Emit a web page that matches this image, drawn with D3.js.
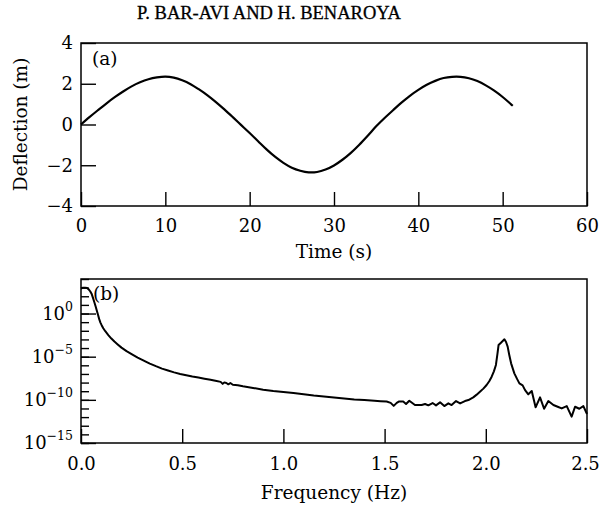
<!DOCTYPE html>
<html><head><meta charset="utf-8">
<script src="https://cdn.jsdelivr.net/npm/d3@7/dist/d3.min.js"></script>
<style>
body{margin:0;background:#fff;}
svg{display:block;}
text{font-family:"DejaVu Serif",serif;fill:#000;}
</style></head>
<body>
<svg id="chart" width="600" height="508"></svg>
<script>
// ---- Data (a): deflection time history ----
const timeS = [0,1,2,3,4,5,6,7,8,9,10,11,12,13,14,15,16,17,18,19,20,21,22,23,24,25,26,27,28,29,30,31,32,33,34,35,36,37,38,39,40,41,42,43,44,45,46,47,48,49,50,51,51.2];
const deflectionM = [0,0.36,0.70,1.03,1.34,1.62,1.87,2.07,2.22,2.31,2.35,2.30,2.17,1.98,1.72,1.43,1.10,0.74,0.36,-0.03,-0.42,-0.82,-1.22,-1.58,-1.88,-2.12,-2.27,-2.35,-2.33,-2.21,-2.01,-1.73,-1.39,-0.99,-0.55,-0.09,0.32,0.70,1.07,1.41,1.70,1.95,2.14,2.28,2.34,2.34,2.27,2.13,1.92,1.66,1.35,0.99,0.92];
const timeTicks = [0,10,20,30,40,50,60];
const deflTicks = [-4,-2,0,2,4];

// ---- Data (b): spectrum ----
const freqHz = [0.000,0.010,0.020,0.030,0.038,0.046,0.053,0.060,0.066,0.072,0.078,0.084,0.090,0.096,0.102,0.110,0.120,0.135,0.150,0.165,0.180,0.200,0.225,0.250,0.280,0.310,0.340,0.370,0.400,0.430,0.460,0.490,0.520,0.550,0.580,0.610,0.640,0.670,0.690,0.700,0.708,0.718,0.728,0.738,0.750,0.775,0.800,0.850,0.900,0.950,1.000,1.050,1.100,1.150,1.200,1.250,1.300,1.350,1.400,1.450,1.480,1.510,1.530,1.545,1.560,1.570,1.592,1.606,1.622,1.650,1.683,1.700,1.716,1.737,1.754,1.774,1.795,1.815,1.831,1.853,1.873,1.897,1.914,1.938,1.955,1.971,1.988,2.004,2.017,2.029,2.040,2.050,2.058,2.063,2.075,2.092,2.100,2.108,2.116,2.125,2.141,2.155,2.166,2.182,2.194,2.210,2.227,2.246,2.268,2.288,2.309,2.334,2.355,2.375,2.400,2.424,2.441,2.462,2.482,2.500];
const spectrumLog10 = [2.90,3.00,3.00,2.95,2.80,2.55,2.25,1.75,1.30,0.85,0.35,-0.15,-0.65,-1.05,-1.35,-1.70,-2.05,-2.50,-2.90,-3.25,-3.55,-3.95,-4.35,-4.70,-5.10,-5.45,-5.80,-6.10,-6.38,-6.60,-6.82,-7.00,-7.15,-7.30,-7.42,-7.55,-7.68,-7.82,-7.92,-8.15,-7.98,-8.05,-8.20,-8.05,-8.25,-8.30,-8.42,-8.62,-8.82,-8.98,-9.10,-9.22,-9.35,-9.50,-9.62,-9.74,-9.85,-9.95,-10.02,-10.10,-10.15,-10.20,-10.35,-10.70,-10.35,-10.20,-10.20,-10.48,-10.10,-10.60,-10.60,-10.48,-10.64,-10.37,-10.64,-10.29,-10.72,-10.41,-10.60,-10.14,-10.41,-10.14,-10.02,-9.71,-9.40,-9.06,-8.70,-8.28,-7.85,-7.32,-6.70,-5.96,-4.60,-3.65,-3.38,-2.99,-3.30,-3.84,-4.80,-5.77,-6.93,-7.60,-8.09,-8.32,-8.87,-9.36,-8.98,-10.87,-9.71,-11.03,-10.14,-10.60,-10.80,-10.99,-10.72,-11.95,-10.80,-11.03,-10.72,-11.64];
const freqTicks = [0,0.5,1.0,1.5,2.0,2.5];
const specMajorExp = [0,-5,-10,-15];
const specMinorExp = [-15,-14,-13,-12,-11,-10,-9,-8,-7,-6,-5,-4,-3,-2,-1,0,1,2,3,4];

const titleText = "P. BAR-AVI AND H. BENAROYA";

const svg = d3.select("#chart");

svg.append("text").attr("x",269).attr("y",19).attr("text-anchor","middle")
  .style("font-family","'Liberation Serif',serif").style("font-size","18.5px")
  .style("stroke","#000").style("stroke-width","0.3px")
  .text(titleText);

const L = 81, R = 587;
const TICKFS = "18px";

function styleAxis(g){
  g.select(".domain").remove();
  g.selectAll(".tick line").attr("stroke","#000").attr("stroke-width",1.4);
  g.selectAll(".tick text").style("font-size",TICKFS).style("font-family","'DejaVu Serif',serif");
}

// ---------- Panel (a) ----------
const aT = 43, aB = 206;
const xa = d3.scaleLinear().domain([0,60]).range([L,R]);
const ya = d3.scaleLinear().domain([-4,4]).range([aB,aT]);

svg.append("g").attr("transform",`translate(0,${aB})`)
  .call(d3.axisBottom(xa).tickValues(timeTicks).tickSize(-14).tickPadding(13).tickFormat(d3.format("d")))
  .call(styleAxis);
svg.append("g").attr("transform",`translate(${L},0)`)
  .call(d3.axisLeft(ya).tickValues(deflTicks).tickSize(-15).tickPadding(8).tickFormat(d => d < 0 ? "\u2212" + Math.abs(d) : String(d)))
  .call(styleAxis);

svg.append("rect").attr("x",L).attr("y",aT).attr("width",R-L).attr("height",aB-aT)
  .attr("fill","none").attr("stroke","#000").attr("stroke-width",1.5);

const lineA = d3.line().x((d,i)=>xa(timeS[i])).y(d=>ya(d)).curve(d3.curveCatmullRom);
svg.append("path").datum(deflectionM).attr("d",lineA)
  .attr("fill","none").attr("stroke","#000").attr("stroke-width",2.2);

svg.append("text").attr("x",92).attr("y",65).style("font-size","18.5px").text("(a)");
svg.append("text").attr("x",334).attr("y",258).attr("text-anchor","middle").style("font-size","18.5px").text("Time (s)");
svg.append("text").attr("transform",`translate(27,${(aT+aB)/2}) rotate(-90)`).attr("text-anchor","middle")
  .style("font-size","18.5px").text("Deflection (m)");

// ---------- Panel (b) ----------
const bT = 279, bB = 443;
const xb = d3.scaleLinear().domain([0,2.5]).range([L,R]);
const yb = d3.scaleLog().domain([1e-15,1e4]).range([bB,bT]);

const xbG = svg.append("g").attr("transform",`translate(0,${bB})`)
  .call(d3.axisBottom(xb).tickValues(freqTicks).tickSize(-14).tickPadding(14).tickFormat(d3.format(".1f")))
  .call(styleAxis);
// keep the last label inside the 600px frame
xbG.selectAll(".tick text").filter(d => d === 2.5).attr("dx","-2px");

// minor ticks
svg.append("g").attr("transform",`translate(${L},0)`)
  .call(d3.axisLeft(yb).tickValues(specMinorExp.map(e=>Math.pow(10,e))).tickSize(-8).tickFormat(""))
  .call(styleAxis);
// major ticks with superscript labels
const majG = svg.append("g").attr("transform",`translate(${L},0)`)
  .call(d3.axisLeft(yb).tickValues(specMajorExp.map(e=>Math.pow(10,e))).tickSize(-15).tickPadding(8).tickFormat(""))
  .call(styleAxis);
majG.selectAll(".tick text").each(function(d){
  const e = Math.round(Math.log10(d));
  const t = d3.select(this);
  t.text("10");
  t.append("tspan").attr("dy","-9px").style("font-size","12.5px")
    .text(e < 0 ? "\u2212" + Math.abs(e) : String(e));
});

svg.append("rect").attr("x",L).attr("y",bT).attr("width",R-L).attr("height",bB-bT)
  .attr("fill","none").attr("stroke","#000").attr("stroke-width",1.5);

const lineB = d3.line().x((d,i)=>xb(freqHz[i])).y(d=>yb(Math.pow(10,d)));
svg.append("path").datum(spectrumLog10).attr("d",lineB)
  .attr("fill","none").attr("stroke","#000").attr("stroke-width",2).attr("stroke-linejoin","round");

svg.append("text").attr("x",93).attr("y",300).style("font-size","18.5px").text("(b)");
svg.append("text").attr("x",334).attr("y",499).attr("text-anchor","middle").style("font-size","18.5px").text("Frequency (Hz)");
</script>
</body></html>
